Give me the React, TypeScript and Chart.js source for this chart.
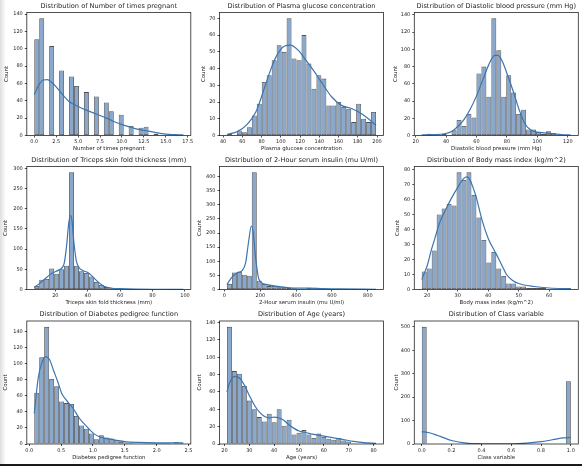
import React, { useEffect, useRef } from "react";
import { Chart, registerables } from "chart.js";

Chart.register(...registerables);
Chart.defaults.font.family = "'DejaVu Sans', sans-serif";

// ---------------- data ----------------
const titles = [
  "Distribution of Number of times pregnant",
  "Distribution of Plasma glucose concentration",
  "Distribution of Diastolic blood pressure (mm Hg)",
  "Distribution of Triceps skin fold thickness (mm)",
  "Distribution of 2-Hour serum insulin (mu U/ml)",
  "Distribution of Body mass index (kg/m^2)",
  "Distribution of Diabetes pedigree function",
  "Distribution of Age (years)",
  "Distribution of Class variable",
];
const xLabels = [
  "Number of times pregnant",
  "Plasma glucose concentration",
  "Diastolic blood pressure (mm Hg)",
  "Triceps skin fold thickness (mm)",
  "2-Hour serum insulin (mu U/ml)",
  "Body mass index (kg/m^2)",
  "Diabetes pedigree function",
  "Age (years)",
  "Class variable",
];

// data range [min, max] of each variable (30 equal bins)
const binRanges: [number, number][] = [
  [0, 17], [44, 199], [24, 122], [7, 99], [14, 846], [18.2, 67.1], [0.078, 2.42], [21, 81], [0, 1],
];

const pregnantCounts = [111, 135, 0, 103, 0, 75, 0, 68, 57, 0, 50, 0, 45, 0, 38, 28, 0, 24, 0, 11, 0, 9, 10, 0, 2, 0, 1, 0, 0, 1];
const glucoseCounts = [1, 0, 3, 2, 5, 12, 19, 32, 36, 45, 54, 50, 70, 46, 45, 60, 43, 28, 36, 34, 18, 18, 20, 17, 16, 8, 19, 10, 8, 14];
const pressureCounts = [1, 2, 0, 0, 2, 0, 6, 18, 11, 25, 21, 72, 80, 45, 136, 99, 45, 70, 50, 25, 30, 7, 7, 4, 2, 5, 3, 1, 0, 1];
const tricepsCounts = [9, 24, 26, 52, 39, 50, 59, 290, 59, 45, 41, 32, 19, 11, 6, 3, 0, 1, 1, 0, 0, 0, 0, 0, 0, 0, 0, 0, 0, 1];
const insulinCounts = [20, 60, 62, 52, 49, 415, 31, 20, 12, 13, 10, 9, 5, 4, 3, 3, 6, 4, 2, 1, 1, 1, 0, 1, 0, 0, 0, 0, 0, 1];
const bmiCounts = [12, 14, 26, 50, 54, 57, 56, 78, 73, 78, 63, 48, 33, 18, 25, 14, 9, 4, 4, 2, 2, 1, 1, 1, 1, 0, 0, 0, 0, 1];
const pedigreeCounts = [64, 108, 146, 81, 72, 53, 51, 50, 35, 23, 19, 13, 6, 11, 8, 7, 5, 3, 2, 2, 1, 1, 1, 1, 1, 0, 0, 0, 2, 1];
const ageCounts = [135, 84, 81, 67, 50, 40, 31, 26, 35, 25, 40, 21, 28, 11, 13, 16, 11, 7, 12, 8, 6, 5, 7, 4, 3, 1, 0, 0, 0, 1];
const classCounts = [500, 0, 0, 0, 0, 0, 0, 0, 0, 0, 0, 0, 0, 0, 0, 0, 0, 0, 0, 0, 0, 0, 0, 0, 0, 0, 0, 0, 0, 268];

// KDE curves
const pregnantKdeX = [0, 0.5, 1, 1.5, 2, 2.5, 3, 3.5, 4, 5, 6, 7, 8, 8.5, 9, 10, 11, 11.5, 12, 13, 14, 14.5, 15, 16, 17];
const pregnantKdeY = [47, 58, 64, 64.5, 61, 56, 50, 44, 39, 33.5, 29, 25, 21, 19, 16.5, 12.5, 9.5, 8, 6.8, 5, 3, 2.2, 1.6, 1.1, 0.8];
const glucoseKdeX = [44, 55, 65, 74, 81, 88, 95, 104, 110, 118, 126, 135, 142, 153, 163, 174, 184, 191, 199];
const glucoseKdeY = [0.6, 2.4, 6.6, 14, 25, 37, 47, 53.5, 54, 51, 45, 38, 32, 23, 18, 16, 13, 10, 6];
const pressureKdeX = [24, 33, 39, 44, 48, 52, 56, 60, 64, 68, 72, 74, 77, 80, 84, 88, 92, 96, 100, 105, 110, 116, 122];
const pressureKdeY = [0.8, 1, 2, 5, 11, 19, 31, 46, 64, 82, 93, 93, 86, 72, 52, 30, 13, 6, 4, 3, 2, 1, 0.6];
const tricepsKdeX = [7, 10, 14, 18, 22, 24, 25.5, 27, 28.3, 29.3, 30.3, 31.5, 33, 34.5, 37, 40, 43, 46, 50, 55, 60, 70, 85, 99];
const tricepsKdeY = [5, 14, 28, 40, 48, 53, 65, 110, 165, 183, 170, 115, 70, 55, 47, 42, 32, 20, 8, 3, 2, 1, 0.6, 0.4];
const insulinKdeX = [14, 40, 71, 100, 118, 135, 150, 160, 175, 193, 230, 300, 400, 470, 550, 650, 846];
const insulinKdeY = [18, 42, 59, 68, 94, 170, 225, 205, 106, 35, 18, 11, 5, 5, 3, 2, 0.5];
const bmiKdeX = [18.2, 20, 21.3, 22.5, 24, 26, 28, 30, 32, 33, 34, 35, 36, 37, 38, 40, 42, 43.3, 45, 46, 48, 50, 55, 60, 67.1];
const bmiKdeY = [6.6, 16, 26, 34, 44, 53, 61, 68, 74, 75, 73, 68, 62, 54, 46, 34, 26, 21, 14, 10, 6, 4, 2, 1, 0.5];
const pedigreeKdeX = [0.078, 0.14, 0.2, 0.26, 0.32, 0.38, 0.45, 0.51, 0.58, 0.64, 0.7, 0.77, 0.84, 0.9, 0.97, 1.03, 1.1, 1.19, 1.27, 1.35, 1.5, 1.7, 2.0, 2.2, 2.3, 2.42];
const pedigreeKdeY = [38, 82, 102, 109, 105, 92, 77, 63, 55, 49, 43, 34, 27, 22, 16, 12, 9, 7, 6, 5, 3, 2, 1.5, 1.5, 1.6, 1.2];
const ageKdeX = [21, 22, 24, 26, 28, 30, 32, 34, 36, 38, 40, 42, 44, 46, 48, 50, 53, 56, 60, 64, 68, 72, 76, 81];
const ageKdeY = [60, 70, 78, 76, 68, 56, 45, 37, 32, 30, 31, 30, 27, 22, 18, 15, 13, 11, 9, 7, 5, 3, 1.5, 0.7];
const classKdeX = [0, 0.05, 0.1, 0.15, 0.2, 0.3, 0.4, 0.5, 0.6, 0.7, 0.8, 0.85, 0.9, 0.95, 1.0];
const classKdeY = [53, 48, 38, 26, 15, 4, 1, 0.5, 1, 4, 10, 15, 21, 26, 28];

// tick values and labels
const xTickValues = [
  [0, 2.5, 5, 7.5, 10, 12.5, 15, 17.5],
  [40, 60, 80, 100, 120, 140, 160, 180, 200],
  [20, 40, 60, 80, 100, 120],
  [20, 40, 60, 80, 100],
  [0, 200, 400, 600, 800],
  [20, 30, 40, 50, 60],
  [0, 0.5, 1, 1.5, 2, 2.5],
  [20, 30, 40, 50, 60, 70, 80],
  [0, 0.2, 0.4, 0.6, 0.8, 1.0],
];
const xTickLabels = [
  ["0.0", "2.5", "5.0", "7.5", "10.0", "12.5", "15.0", "17.5"],
  ["40", "60", "80", "100", "120", "140", "160", "180", "200"],
  ["20", "40", "60", "80", "100", "120"],
  ["20", "40", "60", "80", "100"],
  ["0", "200", "400", "600", "800"],
  ["20", "30", "40", "50", "60"],
  ["0.0", "0.5", "1.0", "1.5", "2.0", "2.5"],
  ["20", "30", "40", "50", "60", "70", "80"],
  ["0.0", "0.2", "0.4", "0.6", "0.8", "1.0"],
];
const yTickValues = [
  [0, 20, 40, 60, 80, 100, 120, 140],
  [0, 10, 20, 30, 40, 50, 60, 70],
  [0, 20, 40, 60, 80, 100, 120, 140],
  [0, 50, 100, 150, 200, 250, 300],
  [0, 50, 100, 150, 200, 250, 300, 350, 400],
  [0, 10, 20, 30, 40, 50, 60, 70, 80],
  [0, 20, 40, 60, 80, 100, 120, 140],
  [0, 20, 40, 60, 80, 100, 120, 140],
  [0, 100, 200, 300, 400, 500],
];

const countsList = [pregnantCounts, glucoseCounts, pressureCounts, tricepsCounts, insulinCounts, bmiCounts, pedigreeCounts, ageCounts, classCounts];
const kdeXList = [pregnantKdeX, glucoseKdeX, pressureKdeX, tricepsKdeX, insulinKdeX, bmiKdeX, pedigreeKdeX, ageKdeX, classKdeX];
const kdeYList = [pregnantKdeY, glucoseKdeY, pressureKdeY, tricepsKdeY, insulinKdeY, bmiKdeY, pedigreeKdeY, ageKdeY, classKdeY];

// ---------------- layout & style ----------------
const PAGE_W = 582;
const PAGE_H = 466;
const colL = [26.8, 219.5, 414.3];
const rowT = [12.5, 166.5, 321];
const PW = 164;
const PH = 123;
const yAxisW = [23.0, 18.7, 21.5, 24.3, 22.7, 19.8, 24.3, 22.7, 20.8];
const XH = 16.5;
const TITLE_SIZE = 6.6;
const TITLE_PAD = { top: 0.94, bottom: 2.64 };
const TH = TITLE_SIZE * 1.2 + TITLE_PAD.top + TITLE_PAD.bottom;
const LABEL_SIZE = 5.4;
const TICK_SIZE = 5.0;
const FILL = "rgba(60,110,170,0.6)";
const EDGE = "rgba(20,20,20,0.75)";
const LINE = "#3b75b0";
const TEXT = "#1e1e1e";
const AXIS = "rgba(0,0,0,0.85)";

const framePlugin = {
  id: "frame",
  afterDatasetsDraw(chart: any) {
    const { ctx, chartArea: a } = chart;
    ctx.save();
    ctx.strokeStyle = AXIS;
    ctx.lineWidth = 0.8;
    ctx.strokeRect(a.left, a.top, a.right - a.left, a.bottom - a.top);
    ctx.restore();
  },
};

function Panel({ p }: { p: number }) {
  const ref = useRef<HTMLCanvasElement>(null);
  useEffect(() => {
    const row = Math.floor(p / 3);
    const col = p % 3;
    const L = colL[col];
    const T = rowT[row];
    const R = L + PW;
    const B = T + PH;
    const [b0, b1] = binRanges[p];
    const counts = countsList[p];
    const w = (b1 - b0) / counts.length;
    const span = b1 - b0;
    const bars = counts.map((c, i) => ({ x: b0 + (i + 0.5) * w, y: c === 0 ? null : c }));
    const kde = kdeXList[p].map((x, i) => ({ x, y: kdeYList[p][i] }));
    const ymax = Math.max(...counts) * 1.05;
    const xt = xTickValues[p];
    const xl = xTickLabels[p];
    const yt = yTickValues[p];
    const yw = yAxisW[p];

    const chart = new Chart(ref.current as HTMLCanvasElement, {
      type: "bar",
      data: {
        datasets: [
          {
            type: "line",
            data: kde as any,
            borderColor: LINE,
            borderWidth: 1.2,
            pointRadius: 0,
            fill: false,
            cubicInterpolationMode: "monotone",
            order: 0,
          } as any,
          {
            type: "bar",
            data: bars as any,
            backgroundColor: FILL,
            borderColor: EDGE,
            borderWidth: 0.8,
            borderSkipped: false,
            barPercentage: 1,
            categoryPercentage: 1,
            inflateAmount: 0,
            order: 1,
          } as any,
        ],
      },
      options: {
        responsive: false,
        animation: false,
        events: [],
        layout: {
          padding: { left: L - yw, right: PAGE_W - R, top: T - TH, bottom: PAGE_H - B - XH },
        },
        plugins: {
          legend: { display: false },
          tooltip: { enabled: false },
          title: {
            display: true,
            text: titles[p],
            fullSize: false,
            color: TEXT,
            font: { size: TITLE_SIZE, weight: "normal" },
            padding: TITLE_PAD,
          },
        },
        scales: {
          x: {
            type: "linear",
            min: b0 - 0.05 * span,
            max: b1 + 0.05 * span,
            offset: false,
            afterBuildTicks: (s: any) => {
              s.ticks = xt.map((v) => ({ value: v }));
            },
            afterFit: (s: any) => {
              s.height = XH;
              s.paddingLeft = 0;
              s.paddingRight = 0;
              s.paddingTop = 0;
              s.paddingBottom = 0;
            },
            ticks: {
              autoSkip: false,
              maxRotation: 0,
              minRotation: 0,
              padding: 1.6,
              color: TEXT,
              font: { size: TICK_SIZE },
              callback: (_v: any, i: number) => xl[i],
            },
            grid: { display: true, drawOnChartArea: false, drawTicks: true, tickLength: 2, color: AXIS, lineWidth: 0.8, offset: false },
            border: { display: false },
            title: { display: true, text: xLabels[p], color: TEXT, font: { size: LABEL_SIZE }, padding: 0 },
          },
          y: {
            type: "linear",
            min: 0,
            max: ymax,
            afterBuildTicks: (s: any) => {
              s.ticks = yt.map((v) => ({ value: v }));
            },
            afterFit: (s: any) => {
              s.width = yw;
              s.paddingLeft = 0;
              s.paddingRight = 0;
              s.paddingTop = 0;
              s.paddingBottom = 0;
            },
            ticks: {
              autoSkip: false,
              padding: 2,
              color: TEXT,
              font: { size: TICK_SIZE },
              callback: (v: any) => String(v),
            },
            grid: { display: true, drawOnChartArea: false, drawTicks: true, tickLength: 2, color: AXIS, lineWidth: 0.8 },
            border: { display: false },
            title: { display: true, text: "Count", color: TEXT, font: { size: LABEL_SIZE }, padding: 0 },
          },
        },
      } as any,
      plugins: [framePlugin],
    });
    return () => chart.destroy();
  }, [p]);
  return (
    <canvas
      ref={ref}
      width={PAGE_W}
      height={PAGE_H}
      style={{ position: "absolute", left: 0, top: 0, width: PAGE_W, height: PAGE_H }}
    />
  );
}

export default function App() {
  return (
    <div
      style={{
        position: "absolute",
        left: 0,
        top: 0,
        width: PAGE_W,
        height: PAGE_H,
        background: "#ffffff",
        overflow: "hidden",
      }}
    >
      <div
        style={{
          position: "absolute",
          left: 0,
          top: 0,
          width: 6,
          height: PAGE_H,
          background: "linear-gradient(to right, rgba(0,0,0,0.13), rgba(0,0,0,0))",
        }}
      />
      {titles.map((_t, i) => (
        <Panel key={i} p={i} />
      ))}
      <div style={{ position: "absolute", left: 0, top: 464, width: PAGE_W, height: 2, background: "#1a1a1a" }} />
    </div>
  );
}
